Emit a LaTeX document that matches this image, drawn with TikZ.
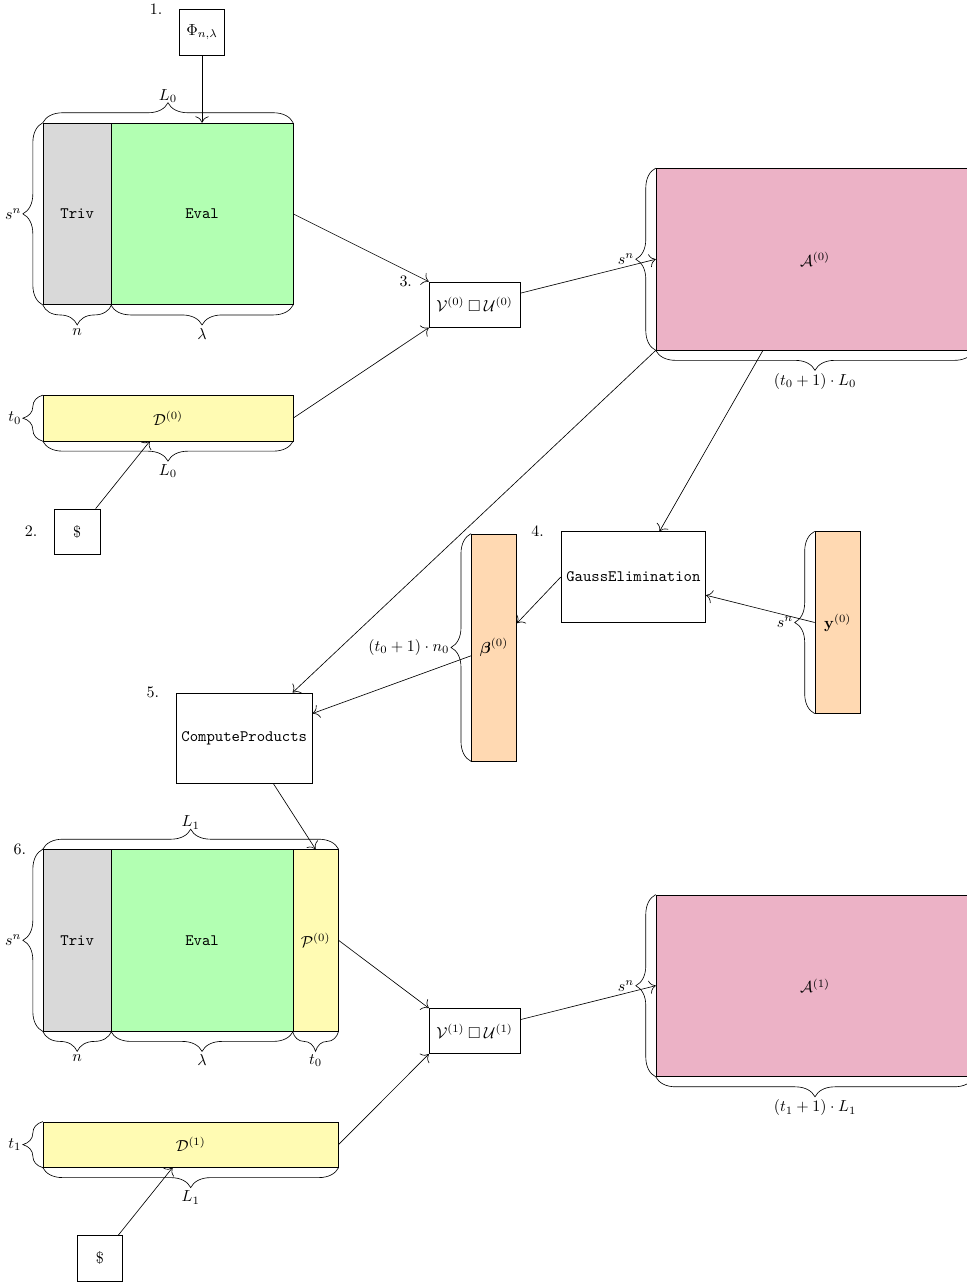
\documentclass[tikz,border=0pt]{standalone}
\usepackage{amsmath}
\usepackage{amssymb}
\usepackage{tikz}
\usepackage{xcolor}
\usetikzlibrary{decorations.pathreplacing, arrows.meta}

\begin{document}
\begin{tikzpicture}[
    >={To[scale=1.6]},
    mat/.style={draw, inner sep=0pt},
    box/.style={draw, minimum height=2cm},
    sq/.style={draw, minimum size=1cm},
    brc/.style={decorate, decoration={brace, amplitude=12.5pt}},
    ]
    \useasboundingbox (-0.95,2.71) rectangle (20.33,-25.57);

    % Step 1
    \node[sq] (phi) at (3.5,2) {$\Phi_{n,\lambda}$};
    \node[left=7pt] (s1) at (phi.north west) {1.};
    \node[mat, fill=gray!30, minimum width=1.5cm, minimum height=4cm] (triv0) at (0.75,-2) {\texttt{Triv}};
    \node[mat, fill=green!30, minimum width=4cm, minimum height=4cm] (eval0) at (3.5,-2) {\texttt{Eval}};
    \draw[brc] (triv0.north west) -- (eval0.north east) node[midway, above=9pt] {$L_0$};
    \draw[brc] (triv0.south west) -- (triv0.north west) node[midway, left=10pt] {$s^n$};
    \draw[brc] (triv0.south east) -- (triv0.south west) node[midway, below=11pt] {$n$};
    \draw[brc] (eval0.south east) -- (eval0.south west) node[midway, below=11pt] {$\lambda$};

    % Step 2
    \node[mat, fill=yellow!30, minimum width=5.5cm, minimum height=1cm] (d0) at (2.75,-6.5) {$\mathcal{D}^{(0)}$};
    \draw[brc] (d0.south west) -- (d0.north west) node[midway, left=10pt] {$t_0$};
    \draw[brc] (d0.south east) -- (d0.south west) node[midway, below=11pt] {$L_0$};
    \node[sq] (dol0) at (0.75,-9) {\$};
    \node[left=7pt] (s2) at (dol0.west) {2.};

    % Step 3
    \node[draw, minimum width=2cm, minimum height=1cm] (vu0) at (9.5,-4) {$\mathcal{V}^{(0)} \mathbin{\square} \mathcal{U}^{(0)}$};
    \node[left=7pt] (s3) at (vu0.north west) {3.};
    \node[mat, fill=purple!30, minimum width=7cm, minimum height=4cm] (a0) at (17,-3) {$\mathcal{A}^{(0)}$};
    \draw[brc] (a0.south west) -- (a0.north west) node[midway, left=10pt] {$s^n$};
    \draw[brc] (a0.south east) -- (a0.south west) node[midway, below=11pt] {$(t_0+1)\cdot L_0$};

    % Step 4
    \node[box] (gauss) at (13,-10) {\texttt{GaussElimination}};
    \node[left=7pt] (s4) at (gauss.north west) {4.};
    \node[mat, fill=orange!30, minimum width=1cm, minimum height=5cm] (beta) at (9.93,-11.55) {$\boldsymbol{\beta}^{(0)}$};
    \draw[brc] (beta.south west) -- (beta.north west) node[midway, left=10pt] {$(t_0+1)\cdot n_0$};
    \node[mat, fill=orange!30, minimum width=1cm, minimum height=4cm] (y0) at (17.5,-11) {$\mathbf{y}^{(0)}$};
    \draw[brc] (y0.south west) -- (y0.north west) node[midway, left=10pt] {$s^n$};

    % Step 5
    \node[box] (cp) at (4.43,-13.55) {\texttt{ComputeProducts}};
    \node[left=7pt] (s5) at (cp.north west) {5.};

    % Step 6
    \node[mat, fill=gray!30, minimum width=1.5cm, minimum height=4cm] (triv1) at (0.75,-18) {\texttt{Triv}};
    \node[mat, fill=green!30, minimum width=4cm, minimum height=4cm] (eval1) at (3.5,-18) {\texttt{Eval}};
    \node[mat, fill=yellow!30, minimum width=1cm, minimum height=4cm] (p0) at (6,-18) {$\mathcal{P}^{(0)}$};
    \node[left=7pt] (s6) at (triv1.north west) {6.};
    \draw[brc] (triv1.north west) -- (p0.north east) node[midway, above=9pt] {$L_1$};
    \draw[brc] (triv1.south west) -- (triv1.north west) node[midway, left=10pt] {$s^n$};
    \draw[brc] (triv1.south east) -- (triv1.south west) node[midway, below=11pt] {$n$};
    \draw[brc] (eval1.south east) -- (eval1.south west) node[midway, below=11pt] {$\lambda$};
    \draw[brc] (p0.south east) -- (p0.south west) node[midway, below=11pt] {$t_0$};

    \node[mat, fill=yellow!30, minimum width=6.5cm, minimum height=1cm] (d1) at (3.25,-22.5) {$\mathcal{D}^{(1)}$};
    \draw[brc] (d1.south west) -- (d1.north west) node[midway, left=10pt] {$t_1$};
    \draw[brc] (d1.south east) -- (d1.south west) node[midway, below=11pt] {$L_1$};
    \node[sq] (dol1) at (1.25,-25) {\$};

    \node[draw, minimum width=2cm, minimum height=1cm] (vu1) at (9.5,-20) {$\mathcal{V}^{(1)} \mathbin{\square} \mathcal{U}^{(1)}$};
    \node[mat, fill=purple!30, minimum width=7cm, minimum height=4cm] (a1) at (17,-19) {$\mathcal{A}^{(1)}$};
    \draw[brc] (a1.south west) -- (a1.north west) node[midway, left=10pt] {$s^n$};
    \draw[brc] (a1.south east) -- (a1.south west) node[midway, below=11pt] {$(t_1+1)\cdot L_1$};

    % arrows
    \draw[->] (phi) -- (eval0.north);
    \draw[->] (dol0) -- ([xshift=-0.4cm]d0.south);
    \draw[->] (eval0.east) -- (vu0.north west);
    \draw[->] (d0.east) -- (vu0.south west);
    \draw[->] (vu0) -- (a0.west);
    \draw[->] (a0) -- (gauss);
    \draw[->] (y0.west) -- (gauss);
    \draw[->] (gauss.west) -- (beta);
    \draw[->] (a0.south west) -- (cp);
    \draw[->] (beta) -- (cp);
    \draw[->] (cp) -- (p0.north);
    \draw[->] (dol1) -- ([xshift=-0.4cm]d1.south);
    \draw[->] (p0.east) -- (vu1.north west);
    \draw[->] (d1.east) -- (vu1.south west);
    \draw[->] (vu1) -- (a1.west);
\end{tikzpicture}
\end{document}
